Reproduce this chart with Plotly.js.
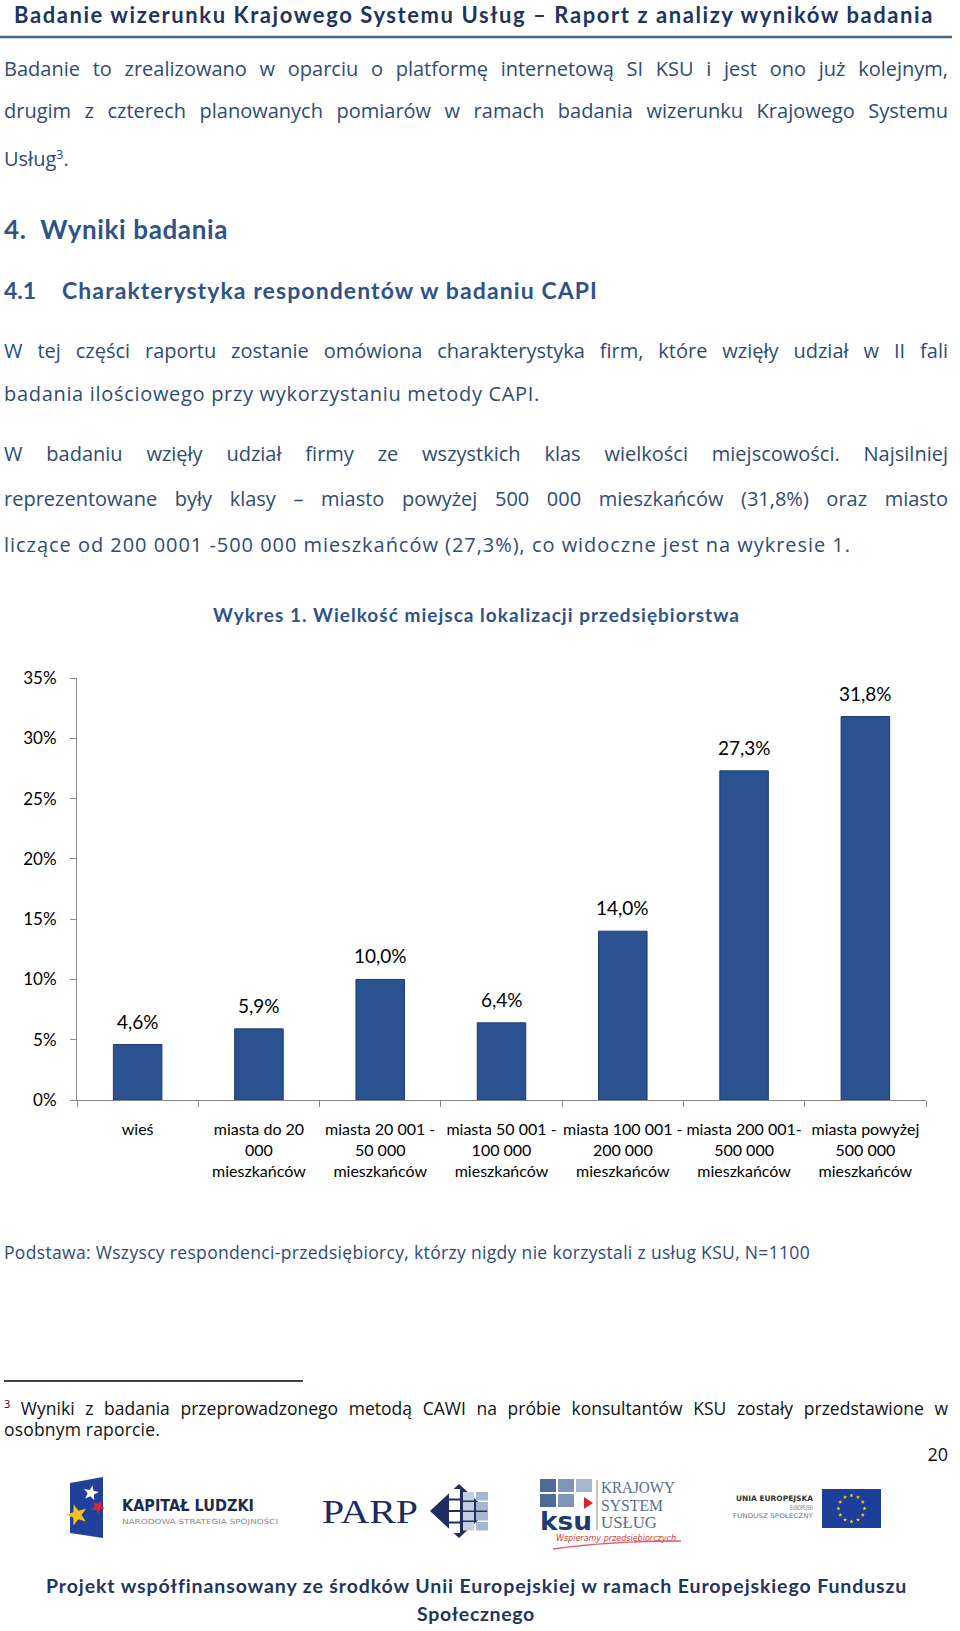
<!DOCTYPE html>
<html>
<head>
<meta charset="utf-8">
<script src="https://cdn.plot.ly/plotly-3.0.1.min.js"></script>
<style>
html,body{margin:0;padding:0;background:#fff;}
#page{position:relative;width:960px;height:1631px;overflow:hidden;background:#fff;font-family:Lato,'Noto Sans',sans-serif;}
.ln{position:absolute;white-space:nowrap;}
#chart{position:absolute;left:0;top:640px;width:960px;height:560px;}
#deco{position:absolute;left:0;top:0;}
</style>
</head>
<body>
<div id="page">
<svg id="deco" width="960" height="1631" xmlns="http://www.w3.org/2000/svg"></svg>
<div id="chart"></div>
</div>
<script>
// ---- chart data ----
const categories = [
  'wieś',
  'miasta do 20<br>000<br>mieszkańców',
  'miasta 20 001 -<br>50 000<br>mieszkańców',
  'miasta 50 001 -<br>100 000<br>mieszkańców',
  'miasta 100 001 -<br>200 000<br>mieszkańców',
  'miasta 200 001-<br>500 000<br>mieszkańców',
  'miasta powyżej<br>500 000<br>mieszkańców'
];
const values = [4.6, 5.9, 10.0, 6.4, 14.0, 27.3, 31.8];
const yTickValues = [0, 5, 10, 15, 20, 25, 30, 35];
const yTickLabels = ['0%', '5%', '10%', '15%', '20%', '25%', '30%', '35%'];

// ---- document text ----
const BODY = '#2F4B74', HEAD = '#2F5289', TOP = '#1F3560';
const OS = "'Open Sans', Lato, sans-serif";
const sup3 = '<span style="font-size:0.62em;vertical-align:0.6em">3</span>';
const textLines = [
  {h:'Badanie wizerunku Krajowego Systemu Usług – Raport z analizy wyników badania', x:14, w:920, cy:16, s:22, b:1, c:TOP},
  {h:'Badanie to zrealizowano w oparciu o platformę internetową SI KSU i jest ono już kolejnym,', x:4, w:944, cy:71, s:20, c:BODY, j:1, f:OS},
  {h:'drugim z czterech planowanych pomiarów w ramach badania wizerunku Krajowego Systemu', x:4, w:944, cy:113, s:20, c:BODY, j:1, f:OS},
  {h:'Usług' + sup3 + '.', x:4, cy:157, s:20, c:BODY, f:OS},
  {h:'4.&nbsp;&nbsp;Wyniki badania', x:4, w:224, cy:231, s:26, b:1, c:HEAD},
  {h:'4.1', x:4, cy:292, s:23, b:1, c:HEAD},
  {h:'Charakterystyka respondentów w badaniu CAPI', x:62, w:536, cy:292, s:23, b:1, c:HEAD},
  {h:'W tej części raportu zostanie omówiona charakterystyka firm, które wzięły udział w II fali', x:4, w:944, cy:353, s:20, c:BODY, j:1, f:OS},
  {h:'badania ilościowego przy wykorzystaniu metody CAPI.', x:4, w:536, cy:396, s:20, c:BODY, f:OS},
  {h:'W badaniu wzięły udział firmy ze wszystkich klas wielkości miejscowości. Najsilniej', x:4, w:944, cy:456, s:20, c:BODY, j:1, f:OS},
  {h:'reprezentowane były klasy – miasto powyżej 500 000 mieszkańców (31,8%) oraz miasto', x:4, w:944, cy:501, s:20, c:BODY, j:1, f:OS},
  {h:'liczące od 200 0001 -500 000 mieszkańców (27,3%), co widoczne jest na wykresie 1.', x:4, w:847, cy:547, s:20, c:BODY, f:OS},
  {h:'Wykres 1. Wielkość miejsca lokalizacji przedsiębiorstwa', x:213, w:527, cy:616, s:19, b:1, c:HEAD},
  {h:'Podstawa: Wszyscy respondenci-przedsiębiorcy, którzy nigdy nie korzystali z usług KSU, N=1100', x:4, w:806, cy:1254, s:17.5, c:BODY, f:OS},
  {h:sup3 + ' Wyniki z badania przeprowadzonego metodą CAWI na próbie konsultantów KSU zostały przedstawione w', x:4, w:944, cy:1405, s:17.5, c:'#111', j:1, f:OS},
  {h:'osobnym raporcie.', x:4, w:156, cy:1431, s:17.5, c:'#111', f:OS},
  {h:'20', rx:948, cy:1456, s:18, c:'#111', f:OS},
  {h:'Projekt współfinansowany ze środków Unii Europejskiej w ramach Europejskiego Funduszu', x:46, w:861, cy:1587, s:19.5, b:1, c:TOP},
  {h:'Społecznego', x:417, w:118, cy:1615, s:19.5, b:1, c:TOP}
];

function layoutText() {
  const page = document.getElementById('page');
  textLines.forEach(L => {
    const el = document.createElement('div');
    el.className = 'ln';
    el.innerHTML = L.h;
    const lh = Math.round(L.s * 1.3);
    if (L.f) el.style.fontFamily = L.f;
    el.style.fontSize = L.s + 'px';
    el.style.lineHeight = lh + 'px';
    el.style.height = lh + 'px';
    el.style.color = L.c;
    el.style.fontWeight = L.b ? '700' : '400';
    el.style.top = (L.cy - lh / 2 - 0.08 * L.s) + 'px';
    page.appendChild(el);
    const natural = el.getBoundingClientRect().width;
    const n = el.textContent.length;
    if (L.rx !== undefined) {
      el.style.left = (L.rx - natural) + 'px';
      return;
    }
    el.style.left = L.x + 'px';
    if (L.w === undefined) return;
    if (L.j) {
      if (natural > L.w - 4) el.style.letterSpacing = ((L.w - natural) / n - 0.05) + 'px';
      el.style.whiteSpace = 'normal';
      el.style.width = L.w + 'px';
      el.style.textAlign = 'justify';
      el.style.textAlignLast = 'justify';
    } else {
      el.style.letterSpacing = ((L.w - natural) / n) + 'px';
    }
  });
}

// ---- decorative rules and logos ----
function starPts(cx, cy, R, r, n, rot) {
  const p = [];
  for (let i = 0; i < 2 * n; i++) {
    const a = rot + Math.PI * i / n;
    const rr = i % 2 ? r : R;
    p.push((cx + rr * Math.sin(a)).toFixed(1) + ',' + (cy - rr * Math.cos(a)).toFixed(1));
  }
  return p.join(' ');
}
function buildDeco() {
  let s = '';
  s += '<line x1="0" y1="37" x2="952" y2="37" stroke="#4A6388" stroke-width="2.5"/>';
  s += '<line x1="4" y1="1381" x2="303" y2="1381" stroke="#000" stroke-width="1.3"/>';
  // Kapitał Ludzki
  s += '<polygon points="70,1483 103,1477 103,1538 70,1533" fill="#22409A"/>';
  s += '<polygon points="' + starPts(77, 1515, 11, 4.5, 5, -0.3) + '" fill="#F3C31C"/>';
  s += '<polygon points="' + starPts(91, 1493, 8, 3.3, 5, 0.2) + '" fill="#FFFFFF"/>';
  s += '<polygon points="' + starPts(98, 1507, 7, 3.2, 5, 0.5) + '" fill="#D8262E"/>';
  s += '<text x="122" y="1511" font-family="DejaVu Sans" font-weight="bold" font-size="15" textLength="132" lengthAdjust="spacingAndGlyphs" fill="#1D2B4E">KAPITAŁ LUDZKI</text>';
  s += '<text x="122" y="1524" font-family="DejaVu Sans" font-size="7" textLength="156" lengthAdjust="spacingAndGlyphs" fill="#8A8A8A">NARODOWA STRATEGIA SPÓJNOŚCI</text>';
  // PARP
  s += '<text x="322" y="1523" font-family="Liberation Serif" font-size="33" textLength="96" lengthAdjust="spacingAndGlyphs" fill="#1B2C5B">PARP</text>';
  s += '<polygon points="430,1511 459,1484 488,1511 459,1538" fill="#1F2E5E"/>';
  for (let k = 0; k < 4; k++) {
    s += '<rect x="449" y="' + (1489 + k * 11.5) + '" width="11" height="9.5" fill="#FFFFFF"/>';
    s += '<rect x="463" y="' + (1492 + k * 10) + '" width="11" height="8.5" fill="#C3CFE2"/>';
    s += '<rect x="476" y="' + (1492 + k * 10) + '" width="12" height="8.5" fill="#A6B7D2"/>';
  }
  // KSU
  const ksuCols = [['#4D6A98', '#7F96B8', '#A7B7CF'], ['#4D6A98', '#7F96B8', null]];
  for (let r = 0; r < 2; r++) for (let c = 0; c < 3; c++) {
    if (!ksuCols[r][c]) continue;
    s += '<rect x="' + (540 + c * 18) + '" y="' + (1479 + r * 15) + '" width="16" height="13" fill="' + ksuCols[r][c] + '"/>';
  }
  s += '<polygon points="584,1497 593,1503 584,1509" fill="#D7262F"/>';
  s += '<text x="540" y="1530" font-family="DejaVu Sans" font-weight="bold" font-size="24" textLength="52" lengthAdjust="spacingAndGlyphs" fill="#1F3A6B">ksu</text>';
  s += '<line x1="597" y1="1480" x2="597" y2="1530" stroke="#8C8C8C" stroke-width="1"/>';
  s += '<text x="601" y="1493" font-family="Liberation Serif" font-size="17" textLength="74" lengthAdjust="spacingAndGlyphs" fill="#5A6D8C">KRAJOWY</text>';
  s += '<text x="601" y="1511" font-family="Liberation Serif" font-size="17" textLength="62" lengthAdjust="spacingAndGlyphs" fill="#5A6D8C">SYSTEM</text>';
  s += '<text x="601" y="1528" font-family="Liberation Serif" font-size="17" textLength="56" lengthAdjust="spacingAndGlyphs" fill="#5A6D8C">USŁUG</text>';
  s += '<text x="556" y="1541" font-family="DejaVu Sans" font-style="italic" font-size="8" textLength="120" lengthAdjust="spacingAndGlyphs" fill="#D23A3A">Wspieramy przedsiębiorczych</text>';
  s += '<path d="M553,1549 Q610,1541 681,1541" stroke="#E06070" stroke-width="1.3" fill="none"/>';
  // EU
  s += '<text x="813" y="1501" text-anchor="end" font-family="DejaVu Sans" font-weight="bold" font-size="7.5" textLength="77" lengthAdjust="spacingAndGlyphs" fill="#333">UNIA EUROPEJSKA</text>';
  s += '<text x="813" y="1510" text-anchor="end" font-family="DejaVu Sans" font-size="6.5" textLength="23" lengthAdjust="spacingAndGlyphs" fill="#777">EUROPEJSKI</text>';
  s += '<text x="813" y="1518" text-anchor="end" font-family="DejaVu Sans" font-size="6.5" textLength="80" lengthAdjust="spacingAndGlyphs" fill="#777">FUNDUSZ SPOŁECZNY</text>';
  s += '<rect x="822" y="1489" width="59" height="39" fill="#1D3F99"/>';
  for (let k = 0; k < 12; k++) {
    const a = k * Math.PI / 6;
    s += '<polygon points="' + starPts(851.5 + 13 * Math.sin(a), 1508.5 - 13 * Math.cos(a), 2.2, 0.9, 5, 0) + '" fill="#F5D00F"/>';
  }
  document.getElementById('deco').innerHTML = s;
}

// ---- chart ----
function fmt(v) { return v.toFixed(1).replace('.', ',') + '%'; }
function drawChart() {
  const trace = {
    type: 'bar',
    x: categories,
    y: values,
    width: 0.4,
    marker: {color: '#2A5291', line: {color: '#1C3C6C', width: 1}},
    hoverinfo: 'skip'
  };
  const layout = {
    width: 960, height: 560,
    margin: {l: 77, r: 34, t: 38, b: 100},
    paper_bgcolor: 'rgba(0,0,0,0)', plot_bgcolor: 'rgba(0,0,0,0)',
    font: {family: 'Lato, sans-serif', color: '#000', size: 16},
    showlegend: false,
    xaxis: {
      type: 'category', showline: true, linecolor: '#898989', linewidth: 1,
      ticks: 'outside', tickson: 'boundaries', ticklen: 6, tickcolor: '#898989',
      tickangle: 0, automargin: false,
      tickfont: {size: 16, color: '#000'}, ticklabelstandoff: 15,
      showgrid: false, zeroline: false
    },
    yaxis: {
      range: [0, 35], tickmode: 'array', tickvals: yTickValues, ticktext: yTickLabels,
      showline: true, linecolor: '#898989', linewidth: 1,
      ticks: 'outside', ticklen: 6, tickcolor: '#898989',
      tickfont: {size: 17, color: '#000'}, ticklabelstandoff: 10,
      showgrid: false, zeroline: false, automargin: false
    },
    annotations: categories.map((c, i) => ({
      x: c, y: values[i], xref: 'x', yref: 'y', text: fmt(values[i]),
      showarrow: false, yanchor: 'bottom', yshift: 10,
      font: {size: 19, color: '#000'}
    }))
  };
  Plotly.newPlot('chart', [trace], layout, {staticPlot: true, displayModeBar: false});
}

buildDeco();
drawChart();
(document.fonts ? document.fonts.ready : Promise.resolve()).then(layoutText);
</script>
</body>
</html>
